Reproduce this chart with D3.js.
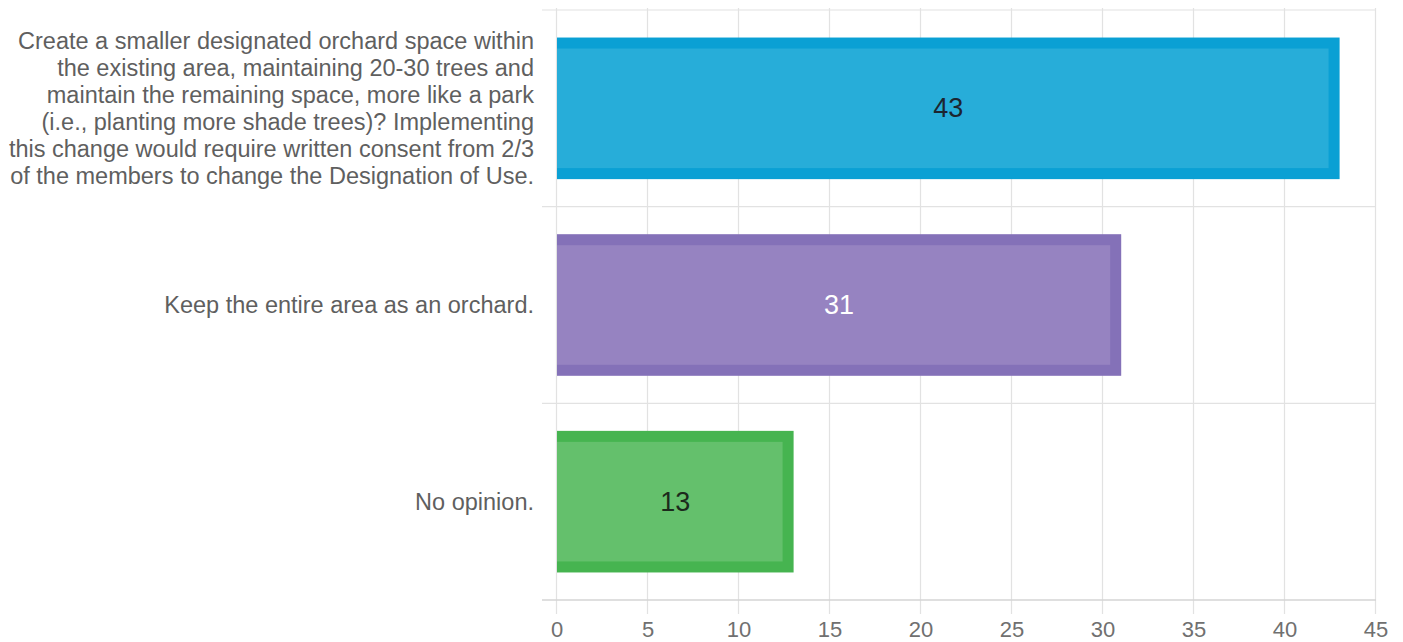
<!DOCTYPE html>
<html><head><meta charset="utf-8">
<script src="https://cdn.jsdelivr.net/npm/d3@7"></script>
<style>body{margin:0;background:#fff;}svg{display:block;font-family:Arial,"Liberation Sans",sans-serif;}</style>
</head><body><svg id="c" width="1403" height="642"></svg>
<script>
const categories = [
  ["Create a smaller designated orchard space within","the existing area, maintaining 20-30 trees and","maintain the remaining space, more like a park","(i.e., planting more shade trees)? Implementing","this change would require written consent from 2/3","of the members to change the Designation of Use."],
  ["Keep the entire area as an orchard."],
  ["No opinion."]
];
const values = [43, 31, 13];
const tickValues = [0,5,10,15,20,25,30,35,40,45];
const borderColors = ["#0aa0d4","#8471b8","#46b450"];
const fillColors = ["#27add9","#9683c1","#64c06c"];
const labelColors = ["#1c2530","#ffffff","#1c2a1c"];

const svg = d3.select("#c");
const m = {left:557, right:1376, top:10, bottom:600};
const x = d3.scaleLinear().domain([0,45]).range([m.left, m.right]);
const y = d3.scaleBand().domain(d3.range(values.length)).range([m.top, m.bottom]).paddingInner(0.28).paddingOuter(0.14);

// vertical gridlines
svg.append("g").selectAll("line").data(tickValues).join("line")
  .attr("x1", d=>x(d)-0.5).attr("x2", d=>x(d)-0.5)
  .attr("y1", m.top-2).attr("y2", m.bottom+14)
  .attr("stroke", "#e2e2e2").attr("stroke-width",1.2);

// horizontal gridlines at band boundaries
const bounds = [m.top, ...d3.range(1, values.length).map(i => y(i) - y.step()*y.paddingInner()/2), m.bottom];
svg.append("g").selectAll("line").data(bounds).join("line")
  .attr("x1", m.left-15).attr("x2", m.right)
  .attr("y1", d=>d).attr("y2", d=>d)
  .attr("stroke", (d,i)=> i===bounds.length-1 ? "#d4d4d4" : "#e2e2e2").attr("stroke-width", (d,i)=> i===bounds.length-1 ? 1.5 : 1.2);

// bars
const bw = 11;
const g = svg.append("g").selectAll("g").data(values).join("g");
g.append("rect")
  .attr("x", x(0)).attr("y", (d,i)=>y(i))
  .attr("width", d=>x(d)-x(0)).attr("height", y.bandwidth())
  .attr("fill", (d,i)=>borderColors[i]);
g.append("rect")
  .attr("x", x(0)).attr("y", (d,i)=>y(i)+bw)
  .attr("width", d=>x(d)-x(0)-bw).attr("height", y.bandwidth()-2*bw)
  .attr("fill", (d,i)=>fillColors[i]);
g.append("text")
  .attr("x", d=>(x(0)+x(d))/2).attr("y", (d,i)=>y(i)+y.bandwidth()/2)
  .attr("text-anchor","middle").attr("dominant-baseline","central")
  .attr("font-size", 27).attr("fill", (d,i)=>labelColors[i])
  .text(d=>d);

// category labels
const lh = 27;
svg.append("g").selectAll("text").data(categories).join("text")
  .attr("text-anchor","end").attr("font-size",23.5).attr("fill","#5f5f5f")
  .each(function(lines,i){
    const cy = y(i)+y.bandwidth()/2;
    const y0 = cy - (lines.length-1)*lh/2;
    d3.select(this).selectAll("tspan").data(lines).join("tspan")
      .attr("x", 534).attr("y", (d,j)=>y0+j*lh).attr("dominant-baseline","central").text(d=>d);
  });

// tick labels
svg.append("g").selectAll("text").data(tickValues).join("text")
  .attr("x", d=>x(d)).attr("y", 629).attr("text-anchor","middle").attr("dominant-baseline","central")
  .attr("font-size",22).attr("fill","#707070").text(d=>d);
</script></body></html>
